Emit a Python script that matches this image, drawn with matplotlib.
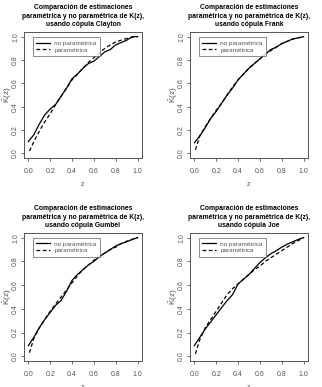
import numpy as np
import matplotlib.pyplot as plt

plt.rcParams['font.family'] = ['Liberation Sans', 'DejaVu Sans']
plt.rcParams['mathtext.fontset'] = 'custom'
plt.rcParams['mathtext.rm'] = 'Liberation Sans'
plt.rcParams['mathtext.it'] = 'Liberation Sans'

# data
z = [0.0, 0.05, 0.1, 0.15, 0.2, 0.25, 0.3, 0.35, 0.4, 0.45, 0.5,
     0.55, 0.6, 0.65, 0.7, 0.75, 0.8, 0.85, 0.9, 0.95, 1.0]
z_par = [0.01, 0.05, 0.1, 0.15, 0.2, 0.25, 0.3, 0.35, 0.4, 0.45, 0.5,
         0.55, 0.6, 0.65, 0.7, 0.75, 0.8, 0.85, 0.9, 0.95, 1.0]

titles = ['Clayton', 'Frank', 'Gumbel', 'Joe']

nopar_clayton = [0.10, 0.16, 0.25, 0.33, 0.38, 0.42, 0.49, 0.56, 0.64, 0.68, 0.73,
                 0.77, 0.79, 0.83, 0.87, 0.89, 0.93, 0.95, 0.97, 1.0, 1.0]
par_clayton = [0.02, 0.10, 0.19, 0.27, 0.34, 0.42, 0.49, 0.56, 0.63, 0.68, 0.73,
               0.78, 0.82, 0.86, 0.90, 0.93, 0.955, 0.97, 0.985, 0.995, 1.0]

nopar_frank = [0.09, 0.15, 0.22, 0.30, 0.36, 0.43, 0.50, 0.56, 0.63, 0.68, 0.73,
               0.77, 0.81, 0.85, 0.89, 0.91, 0.94, 0.96, 0.98, 0.99, 1.0]
par_frank = [0.03, 0.15, 0.23, 0.30, 0.37, 0.43, 0.50, 0.57, 0.63, 0.68, 0.73,
             0.77, 0.81, 0.85, 0.88, 0.91, 0.94, 0.96, 0.98, 0.99, 1.0]

nopar_gumbel = [0.09, 0.16, 0.24, 0.31, 0.37, 0.43, 0.47, 0.55, 0.64, 0.69, 0.73,
                0.77, 0.80, 0.84, 0.87, 0.90, 0.93, 0.95, 0.965, 0.985, 1.0]
par_gumbel = [0.03, 0.15, 0.24, 0.31, 0.38, 0.44, 0.50, 0.56, 0.62, 0.68, 0.73,
              0.77, 0.81, 0.84, 0.87, 0.90, 0.92, 0.95, 0.97, 0.985, 1.0]

nopar_joe = [0.09, 0.16, 0.23, 0.29, 0.35, 0.41, 0.47, 0.52, 0.61, 0.65, 0.69,
             0.74, 0.79, 0.83, 0.865, 0.89, 0.92, 0.945, 0.965, 0.985, 1.0]
par_joe = [0.02, 0.14, 0.24, 0.31, 0.38, 0.45, 0.52, 0.57, 0.61, 0.65, 0.69,
           0.73, 0.76, 0.80, 0.83, 0.86, 0.89, 0.92, 0.95, 0.975, 1.0]

nopar = [nopar_clayton, nopar_frank, nopar_gumbel, nopar_joe]
par = [par_clayton, par_frank, par_gumbel, par_joe]

ticks = [0.0, 0.2, 0.4, 0.6, 0.8, 1.0]
tick_labels = ['0.0', '0.2', '0.4', '0.6', '0.8', '1.0']

fig = plt.figure(figsize=(3.22, 3.87), dpi=100)

# [left, bottom, width, height] of each plot box
boxes = [[0.0745, 0.5917, 0.3665, 0.3256],
         [0.5900, 0.5917, 0.3665, 0.3256],
         [0.0745, 0.0672, 0.3665, 0.3310],
         [0.5900, 0.0672, 0.3665, 0.3310]]

grey = '#555555'

for i in range(4):
    ax = fig.add_axes(boxes[i])
    ax.plot(z, nopar[i], color='black', lw=0.9, label='no paramétrica')
    ax.plot(z_par, par[i], color='black', lw=0.9, ls=(0, (3, 2)), label='paramétrica')
    ax.set_xlim(-0.04, 1.04)
    ax.set_ylim(-0.04, 1.04)
    ax.set_xticks(ticks)
    ax.set_xticklabels(tick_labels)
    ax.set_yticks(ticks)
    ax.set_yticklabels(tick_labels, rotation=90, va='center')
    ax.tick_params(labelsize=5, colors=grey, length=2.5, width=0.6)
    ax.tick_params(axis='x', pad=5)
    ax.tick_params(axis='y', pad=1)
    for s in ax.spines.values():
        s.set_color(grey)
        s.set_linewidth(0.7)
    ax.set_xlabel('z', fontsize=5, color=grey, labelpad=4)
    ax.set_ylabel(r'$\hat{K}$(z)', fontsize=6, color=grey)
    ax.yaxis.set_label_coords(-0.085, 0.5)
    ax.set_title('Comparación de estimaciones\nparamétrica y no paramétrica de K(z),\nusando cópula ' + titles[i],
                 fontsize=4.9, fontweight='bold', linespacing=1.3, pad=4)
    leg = ax.legend(loc='upper left', fontsize=4.6, frameon=True, fancybox=False,
                    handlelength=2.2, handletextpad=0.6, borderpad=0.5,
                    labelspacing=0.2, bbox_to_anchor=(0.05, 0.985))
    leg.get_frame().set_edgecolor(grey)
    leg.get_frame().set_linewidth(0.6)
    for t in leg.get_texts():
        t.set_color(grey)

fig.savefig('out.png', dpi=100)
